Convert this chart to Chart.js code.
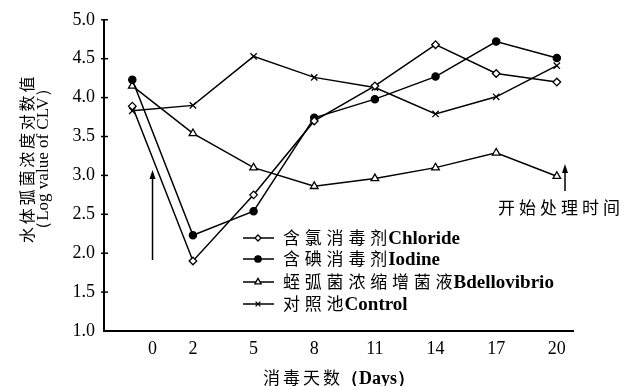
<!DOCTYPE html>
<html>
<head>
<meta charset="utf-8">
<script src="https://cdn.jsdelivr.net/npm/chart.js@4/dist/chart.umd.min.js"></script>
<style>
  html, body { margin: 0; padding: 0; background: #fff; }
</style>
</head>
<body>
<canvas id="chart" width="634" height="386"></canvas>
<script>
// sampling days (first sample taken one day before treatment started)
const days = [-1, 2, 5, 8, 11, 14, 17, 20];
const dayTicks = [0, 2, 5, 8, 11, 14, 17, 20];

// log value of CLV per series
const chloride = [3.89, 1.90, 2.75, 3.70, 4.15, 4.68, 4.31, 4.20];
const iodine = [4.23, 2.23, 2.54, 3.74, 3.98, 4.27, 4.72, 4.51];
const bdellovibrio = [4.15, 3.54, 3.10, 2.86, 2.96, 3.10, 3.29, 2.99];
const control = [3.83, 3.90, 4.53, 4.26, 4.13, 3.79, 4.01, 4.41];

const seriesCn = ["含氯消毒剂", "含碘消毒剂", "蛭弧菌浓缩增菌液", "对照池"];
const seriesEn = ["Chloride", "Iodine", "Bdellovibrio", "Control"];

const CJK = "'Noto Sans CJK SC', sans-serif";
const SERIF = "'Liberation Serif', 'Times New Roman', serif";

function toPoints(vals) {
  return days.map((d, i) => ({ x: d, y: vals[i] }));
}

function makeSet(idx, vals, style, radius, fill) {
  return {
    label: seriesCn[idx] + seriesEn[idx],
    data: toPoints(vals),
    borderColor: "#000",
    borderWidth: 1.5,
    pointStyle: style,
    pointRadius: radius,
    pointBackgroundColor: fill,
    pointBorderColor: "#000",
    pointBorderWidth: 1.3,
    tension: 0,
  };
}

// draw a CJK run with wide spacing followed by a latin run
function mixedText(ctx, cn, en, x, y, cnSize, pitch, enFont) {
  ctx.textBaseline = "middle";
  ctx.textAlign = "left";
  ctx.font = cnSize + "px " + CJK;
  for (const ch of cn) {
    ctx.fillText(ch, x, y);
    x += pitch;
  }
  ctx.font = enFont;
  ctx.fillText(en, x - (pitch - cnSize) + 1, y + 1);
}

function arrow(ctx, x, yTip, yTail) {
  ctx.beginPath();
  ctx.moveTo(x, yTail);
  ctx.lineTo(x, yTip + 4);
  ctx.stroke();
  ctx.beginPath();
  ctx.moveTo(x, yTip);
  ctx.lineTo(x - 3, yTip + 9);
  ctx.lineTo(x + 3, yTip + 9);
  ctx.closePath();
  ctx.fill();
}

const extras = {
  id: "extras",
  afterDraw(chart) {
    const ctx = chart.ctx;
    const xs = chart.scales.x;
    const ys = chart.scales.y;
    ctx.save();
    ctx.strokeStyle = "#000";
    ctx.fillStyle = "#000";

    // short tick marks across the y axis
    ctx.lineWidth = 1.5;
    ys.ticks.forEach((t, i) => {
      const py = ys.getPixelForValue(t.value);
      if (i === 0) return;
      ctx.beginPath();
      ctx.moveTo(xs.left - 3, py);
      ctx.lineTo(xs.left + 4, py);
      ctx.stroke();
    });

    // arrows marking start of treatment
    ctx.lineWidth = 1.5;
    arrow(ctx, xs.getPixelForValue(0), 170, 260);
    arrow(ctx, 565, 164, 191);
    ctx.textBaseline = "middle";
    ctx.textAlign = "left";
    ctx.font = "17px " + CJK;
    let tx = 498;
    for (const ch of "开始处理时间") {
      ctx.fillText(ch, tx, 208);
      tx += 21;
    }

    // legend
    const rows = [238, 259, 282, 304];
    const legendRadius = [3, 3.2, 3.6, 3.4];
    chart.data.datasets.forEach((ds, i) => {
      const y = rows[i];
      ctx.lineWidth = 1.5;
      ctx.strokeStyle = "#000";
      ctx.beginPath();
      ctx.moveTo(243, y);
      ctx.lineTo(274, y);
      ctx.stroke();
      ctx.fillStyle = ds.pointBackgroundColor;
      ctx.lineWidth = ds.pointBorderWidth;
      Chart.helpers.drawPoint(ctx, { pointStyle: ds.pointStyle, radius: legendRadius[i], rotation: 0, borderWidth: ds.pointBorderWidth }, 258, y);
      ctx.fillStyle = "#000";
      mixedText(ctx, seriesCn[i], seriesEn[i], 283, y, 17, 21.8, "bold 19px " + SERIF);
    });

    // y axis title (two rotated lines)
    ctx.save();
    ctx.translate(27, 159);
    ctx.rotate(-Math.PI / 2);
    ctx.textAlign = "left";
    ctx.textBaseline = "middle";
    ctx.font = "16px " + CJK;
    let cx = -84;
    for (const ch of "水体弧菌浓度对数值") {
      ctx.fillText(ch, cx, 0);
      cx += 18.8;
    }
    ctx.textAlign = "center";
    ctx.font = "17px " + SERIF;
    ctx.fillText("（Log value of CLV）", 0, 17);
    ctx.restore();

    // x axis title
    ctx.font = "17px " + CJK;
    ctx.textAlign = "left";
    let bx = 263;
    for (const ch of "消毒天数") {
      ctx.fillText(ch, bx, 378);
      bx += 20;
    }
    ctx.font = "bold 18px " + SERIF;
    ctx.fillText("（Days）", bx - 2, 379);

    ctx.restore();
  },
};

new Chart(document.getElementById("chart"), {
  type: "line",
  data: {
    datasets: [
      makeSet(0, chloride, "rectRot", 3.8, "#fff"),
      makeSet(1, iodine, "circle", 3.6, "#000"),
      makeSet(2, bdellovibrio, "triangle", 4.4, "#fff"),
      makeSet(3, control, "crossRot", 4.5, "#fff"),
    ],
  },
  options: {
    responsive: false,
    animation: false,
    layout: { padding: { left: 0, right: 61, top: 18, bottom: 0 } },
    plugins: {
      legend: { display: false },
      tooltip: { enabled: false },
    },
    scales: {
      x: {
        type: "linear",
        min: -2.4,
        max: 20.8,
        afterBuildTicks: (scale) => {
          scale.ticks = dayTicks.map((v) => ({ value: v }));
        },
        afterFit: (scale) => {
          scale.height = 55;
        },
        grid: { display: false, drawTicks: false },
        border: { display: true, color: "#000", width: 2 },
        ticks: {
          color: "#000",
          padding: 7,
          maxRotation: 0,
          autoSkip: false,
          font: { family: SERIF, size: 18 },
        },
      },
      y: {
        min: 1,
        max: 5,
        afterFit: (scale) => {
          scale.width = 104;
        },
        grid: { display: false, drawTicks: false },
        border: { display: true, color: "#000", width: 2 },
        ticks: {
          stepSize: 0.5,
          color: "#000",
          padding: 9,
          font: { family: SERIF, size: 18 },
          callback: (v) => v.toFixed(1),
        },
      },
    },
  },
  plugins: [extras],
});
</script>
</body>
</html>
